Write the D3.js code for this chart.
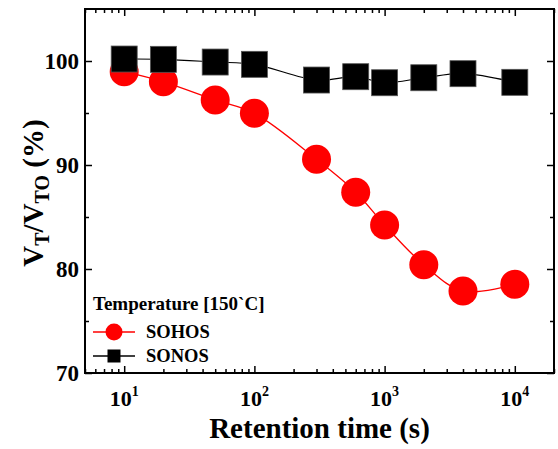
<!DOCTYPE html>
<html>
<head>
<meta charset="utf-8">
<script src="https://cdn.jsdelivr.net/npm/d3@7"></script>
<style>
    body { margin: 0; background: #fff; }
    text { font-family: "Liberation Serif", "Times New Roman", serif; font-weight: bold; }
</style>
</head>
<body>
<div id="canvas"></div>
<script>
"use strict"

/* data */
let retentionTime = [10, 20, 50, 100, 300, 600, 1000, 2000, 4000, 10000];
let sohosValues = [98.97, 98.0, 96.25, 94.97, 90.55, 87.38, 84.23, 80.41, 77.88, 78.53];
let sonosValues = [100.19, 100.16, 99.9, 99.68, 98.17, 98.49, 97.91, 98.39, 98.78, 97.95];
let xMajorTicks = [10, 100, 1000, 10000];
let xTickExponents = ["1", "2", "3", "4"];
let yMajorTicks = [70, 80, 90, 100];
let yMinorTicks = [75, 85, 95];
let legendTitle = "Temperature [150`C]";
let seriesNames = ["SOHOS", "SONOS"];

/* set up the drawing canvas */
let drawing = d3.select("#canvas")
    .append("svg")
    .attr("width", 558)
    .attr("height", 449);

let plotLeft = 85, plotRight = 554, plotTop = 9, plotBottom = 373;

let x = d3.scaleLog().domain([5, 20000]).range([plotLeft, plotRight]);
let y = d3.scaleLinear().domain([70, 105]).range([plotBottom, plotTop]);

/* minor ticks for the log axis: 2..9 of each decade inside the domain */
let xMinorTicks = x.ticks().filter(t => xMajorTicks.indexOf(t) < 0);

function styleAxis(g) {
    g.select(".domain").remove();
    g.selectAll(".tick line").attr("stroke", "black").attr("stroke-width", 1.5);
    g.selectAll(".tick text").remove();
}

/* bottom and top axes (ticks point inward) */
drawing.append("g").attr("transform", "translate(0," + plotBottom + ")")
    .call(d3.axisBottom(x).tickValues(xMajorTicks).tickSize(-7)).call(styleAxis);
drawing.append("g").attr("transform", "translate(0," + plotBottom + ")")
    .call(d3.axisBottom(x).tickValues(xMinorTicks).tickSize(-4)).call(styleAxis);
drawing.append("g").attr("transform", "translate(0," + plotTop + ")")
    .call(d3.axisTop(x).tickValues(xMajorTicks).tickSize(-7)).call(styleAxis);
drawing.append("g").attr("transform", "translate(0," + plotTop + ")")
    .call(d3.axisTop(x).tickValues(xMinorTicks).tickSize(-4)).call(styleAxis);

/* left and right axes */
drawing.append("g").attr("transform", "translate(" + plotLeft + ",0)")
    .call(d3.axisLeft(y).tickValues(yMajorTicks).tickSize(-7)).call(styleAxis);
drawing.append("g").attr("transform", "translate(" + plotLeft + ",0)")
    .call(d3.axisLeft(y).tickValues(yMinorTicks).tickSize(-4)).call(styleAxis);
drawing.append("g").attr("transform", "translate(" + plotRight + ",0)")
    .call(d3.axisRight(y).tickValues(yMajorTicks).tickSize(-7)).call(styleAxis);
drawing.append("g").attr("transform", "translate(" + plotRight + ",0)")
    .call(d3.axisRight(y).tickValues(yMinorTicks).tickSize(-4)).call(styleAxis);

/* plot frame */
drawing.append("rect")
    .attr("x", plotLeft)
    .attr("y", plotTop)
    .attr("width", plotRight - plotLeft)
    .attr("height", plotBottom - plotTop)
    .attr("fill", "none")
    .attr("stroke", "black")
    .attr("stroke-width", 2);

/* x tick labels 10^n */
let xLabels = drawing.append("g").selectAll("text")
    .data(xMajorTicks)
    .enter()
    .append("text")
    .attr("x", d => x(d))
    .attr("y", 406)
    .attr("text-anchor", "middle")
    .attr("font-size", 22);
xLabels.append("tspan").text("10");
xLabels.append("tspan")
    .attr("font-size", 14)
    .attr("dy", -10)
    .text((d, i) => xTickExponents[i]);

/* y tick labels */
drawing.append("g").selectAll("text")
    .data(yMajorTicks)
    .enter()
    .append("text")
    .attr("x", plotLeft - 6)
    .attr("y", d => y(d) + 8)
    .attr("text-anchor", "end")
    .attr("font-size", 23)
    .text(d => d);

/* axis titles */
drawing.append("text")
    .attr("x", (plotLeft + plotRight) / 2)
    .attr("y", 438)
    .attr("text-anchor", "middle")
    .attr("font-size", 29)
    .text("Retention time (s)");

let yTitle = drawing.append("text")
    .attr("transform", "translate(43,193) rotate(-90)")
    .attr("text-anchor", "middle")
    .attr("font-size", 29);
yTitle.append("tspan").text("V");
yTitle.append("tspan").attr("font-size", 20).attr("dy", 6).text("T");
yTitle.append("tspan").attr("dy", -6).text("/V");
yTitle.append("tspan").attr("font-size", 20).attr("dy", 6).text("TO");
yTitle.append("tspan").attr("dy", -6).text(" (%)");

/* curves */
let line = d3.line()
    .x(d => x(d[0]))
    .y(d => y(d[1]))
    .curve(d3.curveCatmullRom.alpha(0.5));

/* SOHOS: red circles */
drawing.append("path")
    .attr("d", line(d3.zip(retentionTime, sohosValues)))
    .attr("fill", "none")
    .attr("stroke", "red")
    .attr("stroke-width", 1.3);

drawing.append("g").selectAll("circle")
    .data(d3.zip(retentionTime, sohosValues))
    .enter()
    .append("circle")
    .attr("cx", d => x(d[0]))
    .attr("cy", d => y(d[1]))
    .attr("r", 14.5)
    .attr("fill", "red");

/* SONOS: black squares */
drawing.append("path")
    .attr("d", line(d3.zip(retentionTime, sonosValues)))
    .attr("fill", "none")
    .attr("stroke", "black")
    .attr("stroke-width", 1.2);

drawing.append("g").selectAll("rect")
    .data(d3.zip(retentionTime, sonosValues))
    .enter()
    .append("rect")
    .attr("x", d => x(d[0]) - 13)
    .attr("y", d => y(d[1]) - 13)
    .attr("width", 26)
    .attr("height", 26)
    .attr("fill", "black")
    .attr("stroke", "#555")
    .attr("stroke-width", 0.8);

/* legend */
drawing.append("text")
    .attr("x", 93)
    .attr("y", 310)
    .attr("font-size", 19)
    .text(legendTitle);

drawing.append("line")
    .attr("x1", 93).attr("y1", 332)
    .attr("x2", 135).attr("y2", 332)
    .attr("stroke", "red")
    .attr("stroke-width", 1.5);
drawing.append("circle")
    .attr("cx", 114).attr("cy", 332)
    .attr("r", 8.5)
    .attr("fill", "red");
drawing.append("text")
    .attr("x", 146).attr("y", 338)
    .attr("font-size", 18.5)
    .text(seriesNames[0]);

drawing.append("line")
    .attr("x1", 93).attr("y1", 356)
    .attr("x2", 135).attr("y2", 356)
    .attr("stroke", "black")
    .attr("stroke-width", 1.5);
drawing.append("rect")
    .attr("x", 107.5).attr("y", 349.5)
    .attr("width", 13).attr("height", 13)
    .attr("fill", "black");
drawing.append("text")
    .attr("x", 146).attr("y", 362)
    .attr("font-size", 18.5)
    .text(seriesNames[1]);
</script>
</body>
</html>
